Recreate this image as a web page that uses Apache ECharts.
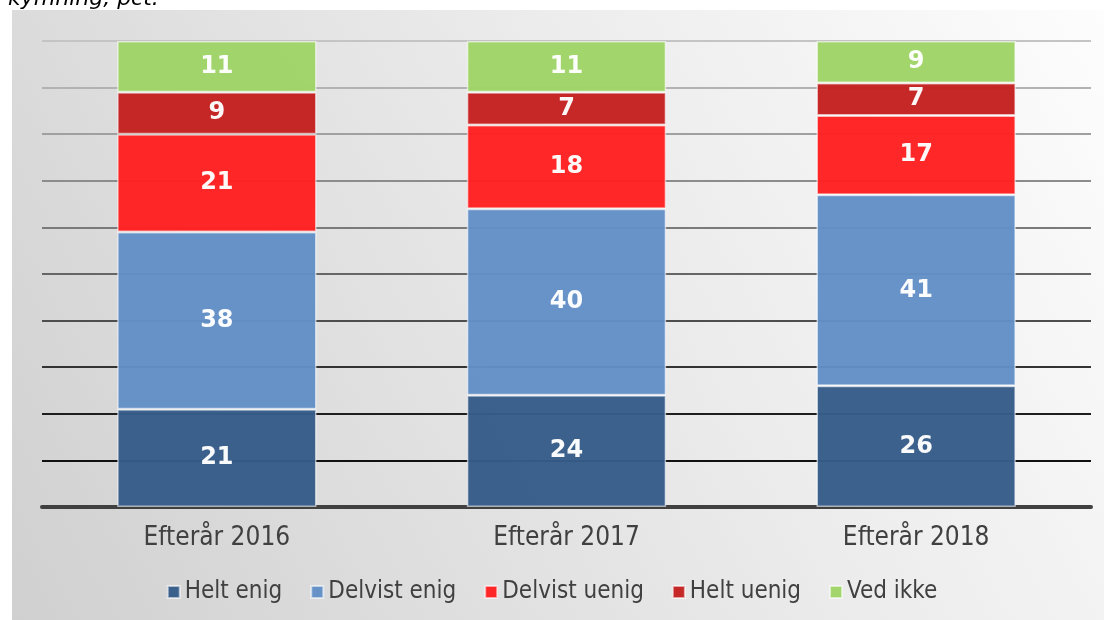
<!DOCTYPE html>
<html>
<head>
	<meta charset="utf-8">
	<title>Efterår 2016-2018</title>
	<style>
		body { margin: 0; background: #fff; }
	</style>
</head>
<body>
	<div style="width:1104px;height:620px;" id="chart1"></div>

	<script src="https://cdn.jsdelivr.net/npm/echarts@6/dist/echarts.min.js"></script>
	<script>
	var categories = ['Efterår 2016', 'Efterår 2017', 'Efterår 2018'];
	var heltEnig = [21, 24, 26];
	var delvistEnig = [38, 40, 41];
	var delvistUenig = [21, 18, 17];
	var heltUenig = [9, 7, 7];
	var vedIkke = [11, 11, 9];

	var names = ['Helt enig', 'Delvist enig', 'Delvist uenig', 'Helt uenig', 'Ved ikke'];
	var values = [heltEnig, delvistEnig, delvistUenig, heltUenig, vedIkke];
	var colors = ['#375c89', '#6290c6', '#ff2020', '#c42020', '#a0d468'];

	// gitterlinjer: mørke nederst, lyse øverst
	var gridColors = ['#111', '#111', '#1e1e1e', '#333', '#4e4e4e', '#666', '#7a7a7a', '#8c8c8c', '#a0a0a0', '#b2b2b2', '#c4c4c4'];

	var myChart = echarts.init(document.getElementById('chart1'));

	var series = [];
	for (var i = 0; i < names.length; i++) {
		series.push({
			name: names[i],
			type: 'bar',
			stack: 'total',
			barWidth: '57%',
			data: values[i],
			itemStyle: {
				color: colors[i],
				opacity: 0.97,
				borderColor: 'rgba(255,255,255,0.6)',
				borderWidth: 1.5
			},
			label: {
				show: true,
				position: 'inside',
				color: '#fff',
				fontSize: 24,
				fontWeight: 'bold',
				fontFamily: 'DejaVu Sans'
			}
		});
	}

	var option = {
		color: colors,
		animation: false,
		graphic: [
			{
				type: 'rect',
				z: -10,
				shape: { x: 12, y: 10, width: 1092, height: 610 },
				style: {
					fill: new echarts.graphic.LinearGradient(1, 0, 0, 1, [
						{ offset: 0, color: '#fdfdfd' },
						{ offset: 0.4, color: '#ececec' },
						{ offset: 1, color: '#d0d0d0' }
					])
				}
			},
			{
				type: 'text',
				left: 8,
				top: -12,
				style: {
					text: 'kymning, pct.',
					font: 'italic 22px "DejaVu Sans"',
					fill: '#000'
				}
			}
		],
		grid: { left: 42, right: 13, top: 41, bottom: 113 },
		legend: {
			data: names,
			bottom: 11,
			left: 'center',
			icon: 'rect',
			itemWidth: 12,
			itemHeight: 12,
			itemGap: 28,
			textStyle: { fontSize: 24, color: '#404040', fontFamily: 'DejaVu Sans Condensed, Liberation Sans Narrow, sans-serif' }
		},
		xAxis: {
			type: 'category',
			data: categories,
			axisTick: { show: false },
			axisLine: { lineStyle: { color: '#404040', width: 4 } },
			axisLabel: { fontSize: 26, color: '#404040', margin: 18, fontFamily: 'DejaVu Sans Condensed, Liberation Sans Narrow, sans-serif' }
		},
		yAxis: {
			type: 'value',
			min: 0,
			max: 100,
			interval: 10,
			axisLabel: { show: false },
			axisLine: { show: false },
			axisTick: { show: false },
			splitLine: { lineStyle: { color: gridColors, width: 2 } }
		},
		series: series
	};

	myChart.setOption(option);
	</script>
</body>
</html>
